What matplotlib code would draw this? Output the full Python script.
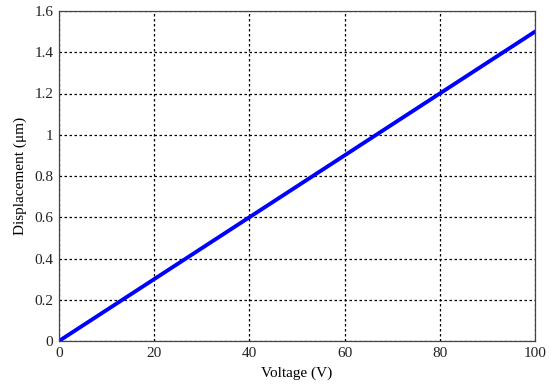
import matplotlib
matplotlib.use("Agg")
import matplotlib.pyplot as plt

# ---- Data ----
voltage = [0, 10, 20, 30, 40, 50, 60, 70, 80, 90, 100]
displacement = [0.0, 0.15, 0.30, 0.45, 0.60, 0.75, 0.90, 1.05, 1.20, 1.35, 1.50]
x_ticks = [0, 20, 40, 60, 80, 100]
y_ticks = [0, 0.2, 0.4, 0.6, 0.8, 1.0, 1.2, 1.4, 1.6]
y_tick_labels = ["0", "0.2", "0.4", "0.6", "0.8", "1", "1.2", "1.4", "1.6"]

plt.rcParams["font.family"] = ["Liberation Serif", "DejaVu Serif"]

fig = plt.figure(figsize=(5.52, 3.85), dpi=100)
ax = fig.add_axes([59 / 552, 1 - 341 / 385, (535 - 59) / 552, (341 - 11) / 385])

ax.plot(voltage, displacement, color="#0000ff", linewidth=2.8, solid_capstyle="round")

ax.set_xlim(0, 100)
ax.set_ylim(0, 1.6)
ax.set_xticks(x_ticks)
ax.set_yticks(y_ticks)
ax.set_yticklabels(y_tick_labels)
ax.tick_params(axis="both", length=0, labelsize=11, pad=4, colors="#222222")

ax.grid(True, color="black", linestyle=(0, (2, 2)), linewidth=0.9)
ax.set_axisbelow(True)
for s in ax.spines.values():
    s.set_color("#444444")
    s.set_linewidth(0.9)

ax.set_xlabel("Voltage (V)", fontsize=11, labelpad=5)
ax.set_ylabel("Displacement (\u03bcm)", fontsize=11, labelpad=5)

fig.savefig("out.png", dpi=100)
